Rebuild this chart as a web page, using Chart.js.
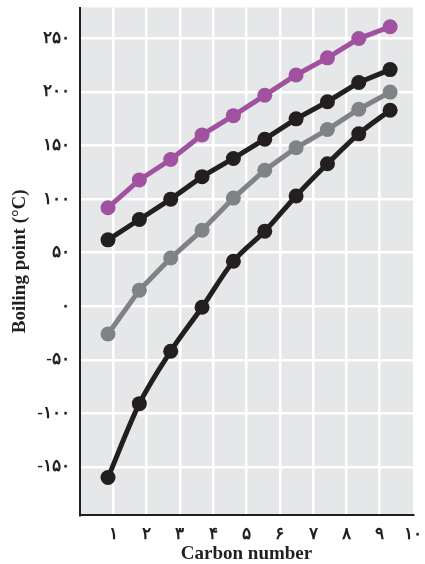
<!DOCTYPE html>
<html><head><meta charset="utf-8">
<script src="https://cdn.jsdelivr.net/npm/chart.js@4/dist/chart.umd.min.js"></script>
<style>html,body{margin:0;padding:0;background:#fff}#wrap{width:425px;height:564px;position:relative}</style>
</head><body><div id="wrap"><canvas id="c"></canvas></div>
<script>
const carbonNumbers = [1, 2, 3, 4, 5, 6, 7, 8, 9, 10];
const purpleSeries = [92, 118, 137, 160, 178, 197, 216, 232, 250, 261];
const blackUpperSeries = [62, 81, 100, 121, 138, 156, 175, 191, 209, 221];
const greySeries = [-26, 15, 45, 71, 101, 127, 148, 165, 184, 200];
const blackLowerSeries = [-160, -91, -42, -1, 42, 70, 103, 133, 161, 183];
const xTickLabels = ['۱', '۲', '۳', '۴', '۵', '۶', '۷', '۸', '۹', '۱۰'];
const yTickValues = [-150, -100, -50, 0, 50, 100, 150, 200, 250];
const yTickLabels = ['-۱۵۰', '-۱۰۰', '-۵۰', '۰', '۵۰', '۱۰۰', '۱۵۰', '۲۰۰', '۲۵۰'];

const INK = '#231f20';
const serif = "'Liberation Serif','DejaVu Serif',serif";
const toPts = arr => arr.map((v, i) => ({ x: carbonNumbers[i], y: v }));
const mk = (data, color, mode) => ({
  data: toPts(data), borderColor: color, backgroundColor: color,
  borderWidth: 5, pointRadius: 7.5, pointBorderWidth: 0, pointBackgroundColor: color,
  cubicInterpolationMode: mode, tension: 0, xAxisID: 'xd', yAxisID: 'y'
});

const bgPlugin = {
  id: 'bg',
  beforeDraw(chart) {
    const { ctx, chartArea: a } = chart;
    ctx.save();
    ctx.fillStyle = '#e6e7e8';
    ctx.fillRect(a.left, a.top, a.right - a.left, a.bottom - a.top);
    ctx.restore();
  }
};

new Chart(document.getElementById('c'), {
  type: 'line',
  data: {
    datasets: [
      mk(purpleSeries, '#a052a0', 'default'),
      mk(blackUpperSeries, INK, 'default'),
      mk(greySeries, '#808285', 'default'),
      mk(blackLowerSeries, INK, 'monotone')
    ]
  },
  options: {
    responsive: true, maintainAspectRatio: false, animation: false, devicePixelRatio: 1,
    layout: { padding: { top: 7, right: 12, left: 0, bottom: 0 } },
    plugins: { legend: { display: false }, tooltip: { enabled: false } },
    scales: {
      x: {
        type: 'linear', position: 'bottom', min: 0, max: 10,
        afterBuildTicks: s => { s.ticks = carbonNumbers.map(v => ({ value: v })); },
        ticks: {
          callback: v => xTickLabels[carbonNumbers.indexOf(v)] || '',
          font: { family: serif, size: 17, weight: 'bold' }, color: INK,
          padding: 9, maxRotation: 0, autoSkip: false
        },
        grid: {
          color: c => (c.tick && c.tick.value > 0 && c.tick.value < 10) ? '#ffffff' : 'rgba(0,0,0,0)',
          lineWidth: 2.5, drawTicks: false
        },
        border: { color: INK, width: 2 },
        title: { display: true, text: 'Carbon number', color: INK,
          font: { family: serif, size: 19, weight: 'bold', lineHeight: 1.0 }, padding: { top: 0, bottom: 0 } },
        afterFit: s => { s.height = 49; s.paddingRight = 0; s.paddingLeft = 0; }
      },
      xd: { type: 'linear', display: false, min: 0.106, max: 10.73 },
      y: {
        type: 'linear', min: -195, max: 279,
        afterBuildTicks: s => { s.ticks = yTickValues.map(v => ({ value: v })); },
        ticks: {
          callback: v => yTickLabels[yTickValues.indexOf(v)],
          font: { family: serif, size: 17, weight: 'bold' }, color: INK, padding: 10
        },
        grid: { color: '#ffffff', lineWidth: 2.5, drawTicks: false },
        border: { color: INK, width: 2 },
        title: { display: true, text: 'Boiling point (°C)', color: INK,
          font: { family: serif, size: 19, weight: 'bold' }, padding: { top: 9, bottom: 0 } },
        afterFit: s => { s.width = 80; s.paddingTop = 0; s.paddingBottom = 0; }
      }
    }
  },
  plugins: [bgPlugin]
});
</script>
</body></html>
